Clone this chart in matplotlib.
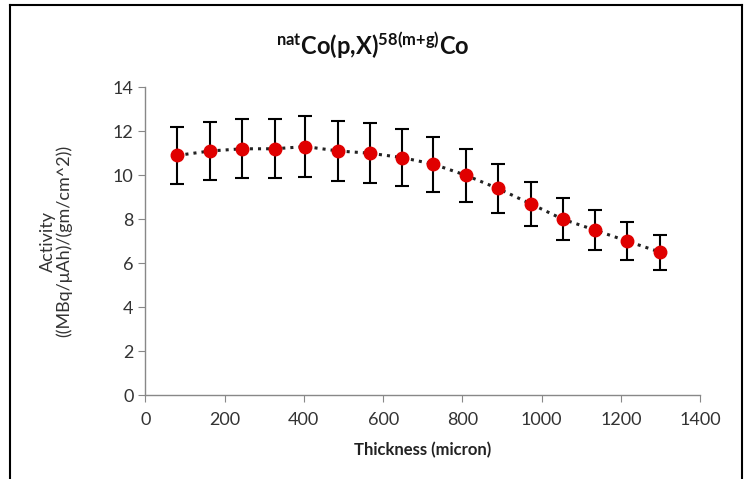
import matplotlib.pyplot as plt
from matplotlib.lines import Line2D

# data
thickness = [81, 164, 245, 326, 404, 487, 566, 648, 727, 808, 889, 972, 1053, 1135, 1216, 1299]
activity = [10.9, 11.1, 11.2, 11.2, 11.3, 11.1, 11.0, 10.8, 10.5, 10.0, 9.4, 8.7, 8.0, 7.5, 7.0, 6.5]
err = [1.3, 1.3, 1.35, 1.35, 1.4, 1.35, 1.35, 1.3, 1.25, 1.2, 1.1, 1.0, 0.95, 0.9, 0.85, 0.8]

plt.rcParams['font.family'] = ['Lato', 'DejaVu Sans']
plt.rcParams['mathtext.fontset'] = 'custom'
plt.rcParams['mathtext.bf'] = 'Lato:bold'
plt.rcParams['mathtext.rm'] = 'Lato'

fig = plt.figure(figsize=(7.45, 4.79), dpi=100)
ax = fig.add_axes([0.195, 0.175, 0.745, 0.643])

# dotted connecting line + error bars + red markers
ax.plot(thickness, activity, ':', color='#222222', lw=2.2, zorder=2)
ax.errorbar(thickness, activity, yerr=err, fmt='none', ecolor='black',
            elinewidth=1.5, capsize=5, capthick=1.5, zorder=3)
ax.plot(thickness, activity, 'o', color='#e00000', markersize=9, zorder=4)

ax.set_xlim(0, 1400)
ax.set_ylim(0, 14)
ax.set_xticks(range(0, 1401, 200))
ax.set_yticks(range(0, 15, 2))

for s in ['top', 'right']:
    ax.spines[s].set_visible(False)
for s in ['left', 'bottom']:
    ax.spines[s].set_color('#888888')
    ax.spines[s].set_linewidth(1)
ax.tick_params(axis='both', direction='out', length=5, color='#888888',
               labelsize=13, labelcolor='#333333')
ax.tick_params(axis='x', pad=7)

ax.set_xlabel('Thickness (micron)', fontsize=12, fontweight='bold', color='#222222', labelpad=10)
ax.set_ylabel('Activity\n((MBq/\u03bcAh)/(gm/cm^2))', fontsize=13, color='#333333',
              linespacing=1.0, labelpad=29)

fig.text(0.5, 0.905, r'$\mathbf{{}^{nat}Co(p{,}X)^{58(m{+}g)}Co}$', ha='center', va='center',
         fontsize=17, color='#111111')

# outer chart border
fig.add_artist(Line2D([0.014, 0.014], [0, 0.99], transform=fig.transFigure, color='black', lw=1.5))
fig.add_artist(Line2D([0.014, 0.996], [0.99, 0.99], transform=fig.transFigure, color='black', lw=1.5))
fig.add_artist(Line2D([0.996, 0.996], [0, 0.99], transform=fig.transFigure, color='black', lw=1.5))

fig.savefig('out.png', dpi=100)
